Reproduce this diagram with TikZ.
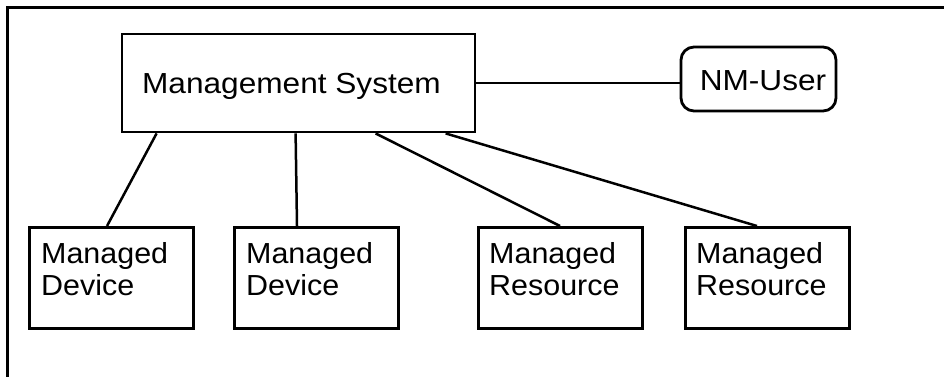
\documentclass[tikz,border=0pt]{standalone}
\usepackage{fontspec}
\setmainfont{Liberation Sans}[FakeStretch=1.09]
\newfontfamily\leaffont{Liberation Sans}[FakeStretch=1.05]
\begin{document}
\begin{tikzpicture}[x=1pt,y=-1pt,
  every node/.style={font=\fontsize{29pt}{32pt}\selectfont},
  box/.style={draw, line width=2.8pt, rectangle, inner sep=0pt},
  userbox/.style={draw, line width=2.8pt, rectangle, rounded corners=13pt, inner sep=0pt},
  leaf/.style={box, minimum width=164pt, minimum height=101pt, anchor=north west},
  leaftext/.style={anchor=north west, align=left, inner sep=0pt,
    font=\leaffont\fontsize{29pt}{32pt}\selectfont},
  link/.style={line width=2.5pt}]
  \useasboundingbox (0,0) rectangle (944,376);
  % outer frame (left and top edges)
  \draw[line width=3pt] (7.5,380) -- (7.5,7.5) -- (950,7.5);

  % management system and its user
  \node[box, minimum width=353pt, minimum height=98pt, text height=20pt, text depth=0pt]
    (ms) at (298.5,83) {Management System\kern14pt};
  \node[userbox, minimum width=155pt, minimum height=64pt, text height=22pt, text depth=0pt]
    (nm) at (758.5,79) {\kern9pt NM-User};
  \draw[link] (ms.east) -- (ms.east -| nm.west);

  % managed elements
  \node[leaf] (d1) at (28,226) {};
  \node[leaf] (d2) at (233,226) {};
  \node[leaf] (r1) at (477,226) {};
  \node[leaf] (r2) at (684,226) {};
  \node[leaftext] (t1) at ([xshift=13pt,yshift=-16pt]d1.north west) {Managed\\Device};
  \node[leaftext] (t2) at ([xshift=13pt,yshift=-16pt]d2.north west) {Managed\\Device};
  \node[leaftext] (t3) at ([xshift=12pt,yshift=-16pt]r1.north west) {Managed\\Resource};
  \node[leaftext] (t4) at ([xshift=12pt,yshift=-16pt]r2.north west) {Managed\\Resource};

  % connections from the management system
  \draw[link] ([xshift=36pt]ms.south west) -- ([xshift=79pt]d1.north west);
  \draw[link] ([xshift=175pt]ms.south west) -- ([xshift=64pt]d2.north west);
  \draw[link] ([xshift=255pt]ms.south west) -- ([xshift=83pt]r1.north west);
  \draw[link] ([xshift=325pt]ms.south west) -- ([xshift=73pt]r2.north west);
\end{tikzpicture}
\end{document}
